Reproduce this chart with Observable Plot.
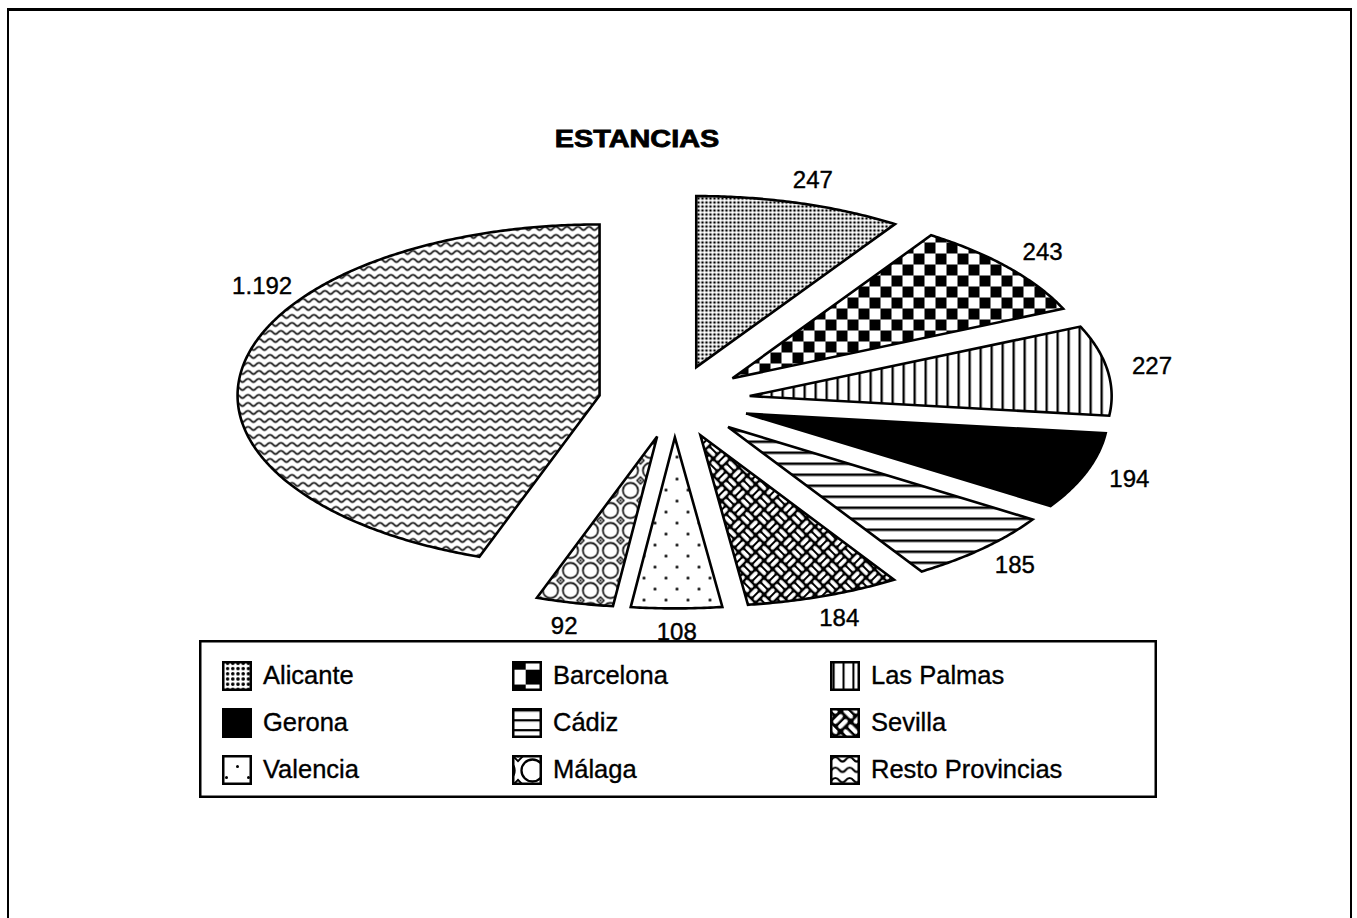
<!DOCTYPE html>
<html><head><meta charset="utf-8">
<script src="https://cdn.jsdelivr.net/npm/d3@7"></script>
<script src="https://cdn.jsdelivr.net/npm/@observablehq/plot@0.6"></script>
<style>
html,body{margin:0;padding:0;background:#fff;width:1357px;height:918px;overflow:hidden;}
#frame{position:absolute;left:7px;top:8px;width:1345px;height:940px;box-sizing:border-box;border:2px solid #000;border-top-width:3px;border-bottom:none;}
#title{position:absolute;left:537px;top:127px;width:200px;text-align:center;font:bold 24px "Liberation Sans",Arial,sans-serif;line-height:24px;transform:scaleX(1.2);-webkit-text-stroke:0.8px #000;color:#000;}
#chart{position:absolute;left:0;top:0;}
#legend{position:absolute;left:199px;top:640px;}
</style></head><body>
<div id="frame"></div>
<svg width="0" height="0" style="position:absolute;left:0;top:0"><defs id="defs"></defs></svg>
<div id="title">ESTANCIAS</div>
<div id="chart"></div>
<svg id="legend" width="962" height="162"></svg>
<script>
// ---- data ----
const provincias = ["Alicante","Barcelona","Las Palmas","Gerona","Cádiz","Sevilla","Valencia","Málaga","Resto Provincias"];
const estancias = [247,243,227,194,185,184,108,92,1192];
const patternKeys = ["alicante","barcelona","laspalmas","gerona","cadiz","sevilla","valencia","malaga","resto"];

// ---- pattern styles ----
function diamonds(s){
  return [[0,0],[s,0],[0,s],[s,s]].map(([x,y])=>
    `<path d="M${x-3.5},${y} L${x},${y-3.5} L${x+3.5},${y} L${x},${y+3.5} Z" fill="#fff" stroke="#000" stroke-width="1.3"/><circle cx="${x}" cy="${y}" r="1" fill="#000"/>`).join("");
}
function weave(c){
  const h = (x,y)=>`<rect x="${x+1}" y="${y+1.2}" width="${c-2}" height="${c/2-2.2}" rx="2" fill="#fff"/><rect x="${x+1}" y="${y+c/2+1}" width="${c-2}" height="${c/2-2.2}" rx="2" fill="#fff"/>`;
  const v = (x,y)=>`<rect x="${x+1.2}" y="${y+1}" width="${c/2-2.2}" height="${c-2}" rx="2" fill="#fff"/><rect x="${x+c/2+1}" y="${y+1}" width="${c/2-2.2}" height="${c-2}" rx="2" fill="#fff"/>`;
  return `<rect width="${2*c}" height="${2*c}" fill="#000"/>` + h(0,0) + v(c,0) + v(0,c) + h(c,c);
}
const patternDefs = {
  alicante:{w:4,h:4,ls:1.3,body:'<rect width="4" height="4" fill="#fff"/><circle cx="2" cy="2" r="1.35" fill="#000"/>'},
  barcelona:{w:22,h:22,ls:1.35,body:'<rect width="22" height="22" fill="#fff"/><rect width="11" height="11" fill="#000"/><rect x="11" y="11" width="11" height="11" fill="#000"/>'},
  laspalmas:{w:11,h:11,ls:0.9,body:'<rect width="11" height="11" fill="#fff"/><rect width="2.3" height="11" fill="#000"/>'},
  gerona:{w:4,h:4,ls:1,body:'<rect width="4" height="4" fill="#000"/>'},
  cadiz:{w:11,h:11,ls:0.9,body:'<rect width="11" height="11" fill="#fff"/><rect width="11" height="2.5" fill="#000"/>'},
  sevilla:{w:24,h:24,ls:1.2,rot:45,body:weave(12)},
  valencia:{w:22,h:22,ls:1,body:'<rect width="22" height="22" fill="#fff"/><circle cx="5.5" cy="5.5" r="1.5" fill="#000"/><circle cx="16.5" cy="16.5" r="1.5" fill="#000"/>'},
  malaga:{w:20,h:20,ls:1.45,body:'<rect width="20" height="20" fill="#fff"/><circle cx="10" cy="10" r="7.6" fill="none" stroke="#000" stroke-width="1.6"/>'+diamonds(20)},
  resto:{w:11,h:8,ls:1.3,body:'<rect width="11" height="8" fill="#fff"/><path d="M0,5.6 C2.6,5.6 2.4,2.2 5.5,2.2 C8.6,2.2 8.4,5.6 11,5.6" fill="none" stroke="#000" stroke-width="1.6"/>'}
};
let defsHtml = "";
for (const k of patternKeys) {
  const p = patternDefs[k];
  const rot = p.rot ? `rotate(${p.rot})` : "";
  defsHtml += `<pattern id="p-${k}" patternUnits="userSpaceOnUse" width="${p.w}" height="${p.h}" patternTransform="${rot}">${p.body}</pattern>`;
  defsHtml += `<pattern id="l-${k}" patternUnits="userSpaceOnUse" width="${p.w}" height="${p.h}" patternTransform="scale(${p.ls}) ${rot}">${p.body}</pattern>`;
}
document.getElementById("defs").innerHTML = defsHtml;

// ---- layout ----
const W = 1357, H = 662;
const cx = 674, cy = 401, rx = 362, ry = 171;
const explode = 0.21;
const padX = 45, padY = 24;
const labelAngleOverride = {"Resto Provincias": 304};
const rad = d => d * Math.PI / 180;

const fmt = d3.formatLocale({decimal: ",", thousands: ".", grouping: [3], currency: ["", "€"]}).format(",d");
const total = d3.sum(estancias);
let acc = 0;
const slices = provincias.map((name, i) => {
  const a0 = acc / total * 360; acc += estancias[i];
  const a1 = acc / total * 360;
  const m = (a0 + a1) / 2;
  const ox = explode * Math.sin(rad(m)), oy = explode * Math.cos(rad(m));
  const pts = [{x: ox, y: oy}];
  const n = Math.max(2, Math.ceil((a1 - a0) / 0.5));
  for (let k = 0; k <= n; k++) {
    const a = rad(a0 + (a1 - a0) * k / n);
    pts.push({x: ox + Math.sin(a), y: oy + Math.cos(a)});
  }
  const la = rad(labelAngleOverride[name] ?? m);
  const label = {x: ox + Math.sin(la) * (1 + padX / rx), y: oy + Math.cos(la) * (1 + padY / ry), t: fmt(estancias[i])};
  return {name, key: patternKeys[i], pts, label};
});

const marks = slices.map(s => Plot.line(s.pts, {
  x: "x", y: "y", curve: "linear-closed",
  fill: s.key === "gerona" ? "#000" : `url(#p-${s.key})`,
  stroke: "#000", strokeWidth: 2.6, strokeLinejoin: "miter", strokeMiterlimit: 4
}));
marks.push(Plot.text(slices.map(s => s.label), {
  x: "x", y: "y", text: "t", fontSize: 24, fill: "#000", stroke: "#000", strokeWidth: 0.4,
  fontFamily: '"Liberation Sans", Arial, sans-serif'
}));

const chart = Plot.plot({
  width: W, height: H, margin: 0,
  x: {domain: [-cx / rx, (W - cx) / rx], axis: null},
  y: {domain: [-(H - cy) / ry, cy / ry], axis: null},
  marks
});
chart.style.background = "transparent";
document.getElementById("chart").appendChild(chart);

// ---- legend ----
const lg = d3.select("#legend");
lg.append("rect").attr("x", 1.25).attr("y", 1.25).attr("width", 955.5).attr("height", 155.5)
  .attr("fill", "none").attr("stroke", "#000").attr("stroke-width", 2.5);
const colX = [23, 313, 631], rowY = [21, 68, 115];
provincias.forEach((name, i) => {
  const c = i % 3, r = Math.floor(i / 3);
  const k = patternKeys[i];
  lg.append("rect").attr("x", colX[c] + 1.25).attr("y", rowY[r] + 1.25).attr("width", 27.5).attr("height", 27.5)
    .attr("fill", k === "gerona" ? "#000" : `url(#l-${k})`).attr("stroke", "#000").attr("stroke-width", 2.5);
  lg.append("text").attr("x", colX[c] + 41).attr("y", rowY[r] + 22.5)
    .attr("font-family", '"Liberation Sans", Arial, sans-serif').attr("font-size", 25.5).attr("fill", "#000")
    .attr("stroke", "#000").attr("stroke-width", 0.35)
    .text(name);
});
</script>
</body></html>
